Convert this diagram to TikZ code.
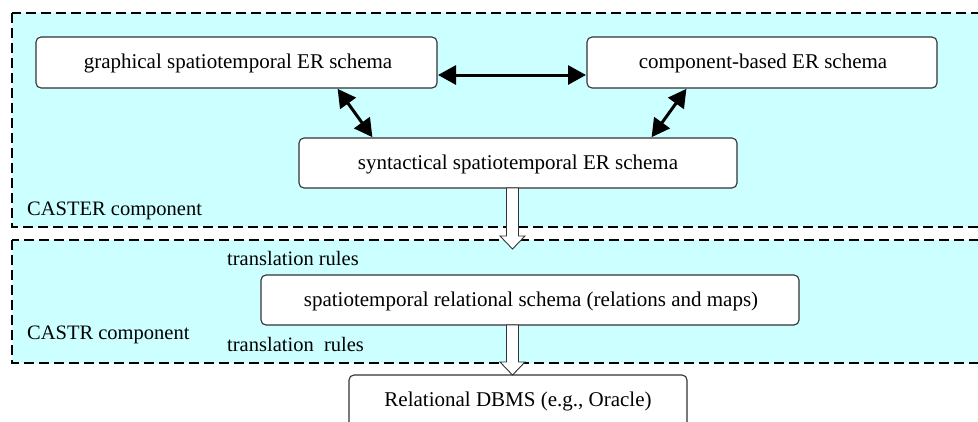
\documentclass[tikz,border=0pt]{standalone}
\usepackage{fontspec}
\newfontfamily\libserif{Liberation Serif}
\usetikzlibrary{arrows.meta}
\definecolor{zonefill}{RGB}{204,255,255}
\definecolor{boxline}{RGB}{50,50,50}
\tikzset{
  zone/.style={draw=black, fill=zonefill, line width=1.8pt, dash pattern=on 10pt off 5pt},
  schemabox/.style={draw=boxline, fill=white, line width=1.1pt, rounded corners=5pt},
  linkarrow/.style={line width=3pt, {Triangle[length=18pt,width=19pt]}-{Triangle[length=18pt,width=19pt]}, shorten <=1pt, shorten >=1pt},
  flowarrow/.style={draw=boxline, fill=white, line width=0.9pt},
  lbl/.style={font={\fontsize{20.5}{24}\selectfont\libserif}, anchor=base west, inner sep=0pt},
  boxtext/.style={font={\fontsize{21}{25}\selectfont\libserif}, inner sep=0pt}
}
\begin{document}
\begin{tikzpicture}[x=1pt,y=-1pt]
\path[use as bounding box] (0,0) rectangle (978,421);
\clip (0,0) rectangle (978,421);
\fill[white] (0,0) rectangle (978,421);

% component zones
\draw[zone] (12,13) rectangle (995,227);
\draw[zone] (12,240) rectangle (995,363);

% schema boxes
\draw[schemabox] (36,37) rectangle (437,88);
\node[boxtext] (graph) at (238,63) {graphical spatiotemporal ER schema};
\coordinate (graphR) at (437,75);
\coordinate (graphB) at (337,88);

\draw[schemabox] (587,37) rectangle (937,88);
\node[boxtext] (comp) at (763,63) {component-based ER schema};
\coordinate (compL) at (587,75);
\coordinate (compB) at (687,88);

\draw[schemabox] (299,138) rectangle (737,188);
\node[boxtext] (synt) at (518,164) {syntactical spatiotemporal ER schema};
\coordinate (syntTL) at (373,138);
\coordinate (syntTR) at (651,138);

\draw[schemabox] (261,275) rectangle (799,325);
\node[boxtext] (rel) at (531,301) {spatiotemporal relational schema (relations and maps)};

\draw[schemabox] (349,375) rectangle (687,440);
\node[boxtext] (dbms) at (518,401) {Relational DBMS (e.g., Oracle)};

% bidirectional links
\draw[linkarrow] (graphR) -- (compL);
\draw[linkarrow] (graphB) -- (syntTL);
\draw[linkarrow] (compB) -- (syntTR);

% hollow block arrows
\filldraw[flowarrow] (506.5,188) -- (518.5,188) -- (518.5,236) -- (525,236) -- (512.5,249)
  -- (500,236) -- (506.5,236) -- cycle;
\filldraw[flowarrow] (506.5,325) -- (518.5,325) -- (518.5,362) -- (525,362) -- (512.5,375)
  -- (500,362) -- (506.5,362) -- cycle;

% labels
\node[lbl] (caster) at (27,215) {CASTER component};
\node[lbl] (rules1) at (227,265) {translation rules};
\node[lbl] (castr) at (27,339) {CASTR component};
\node[lbl] (rules2) at (227,351) {translation\ \ rules};
\end{tikzpicture}
\end{document}
